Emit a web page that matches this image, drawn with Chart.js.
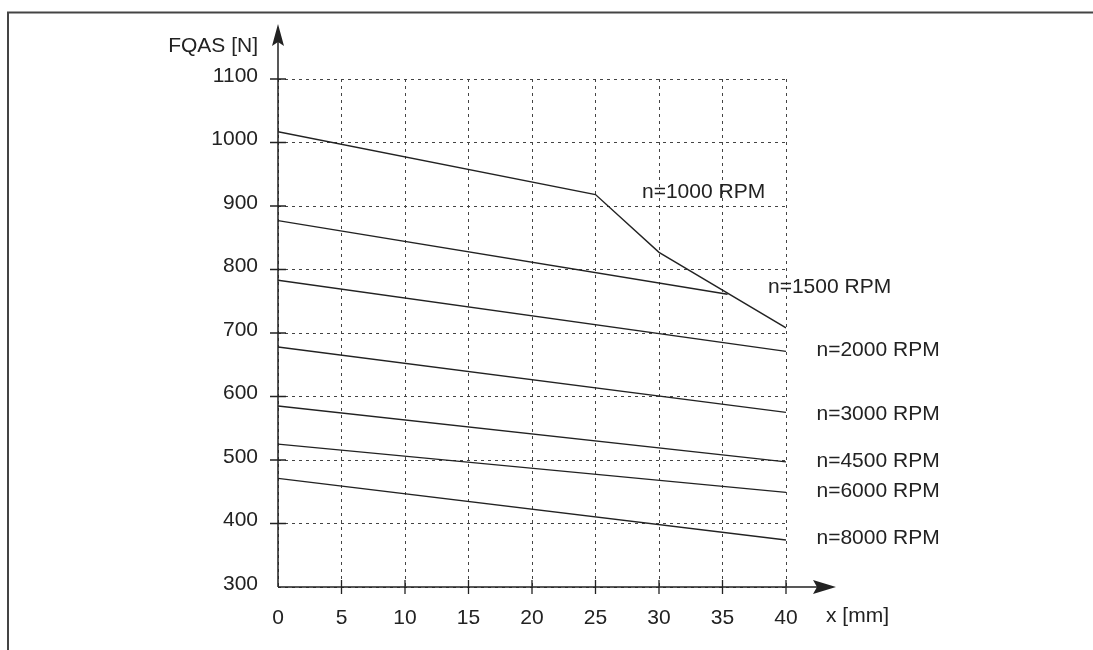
<!DOCTYPE html>
<html>
<head>
<meta charset="utf-8">
<script src="https://cdn.jsdelivr.net/npm/chart.js@4"></script>
<style>
    body { margin: 0; background: #fff; }
    canvas { display: block; }
</style>
</head>
<body>
<canvas id="forceChart" width="1093" height="650"></canvas>
<script>
// x [mm] positions and FQAS [N] values
const x1000 = [0, 25, 30, 40];
const y1000 = [1017, 918, 827, 708];
const x1500 = [0, 35.4];
const y1500 = [877, 761];
const xStraight = [0, 40];
const y2000 = [783, 671];
const y3000 = [678, 575];
const y4500 = [585, 497];
const y6000 = [525, 449];
const y8000 = [471, 374];

const seriesNames = [
    'n=1000 RPM',
    'n=1500 RPM',
    'n=2000 RPM',
    'n=3000 RPM',
    'n=4500 RPM',
    'n=6000 RPM',
    'n=8000 RPM',
];

const xTicks = [0, 5, 10, 15, 20, 25, 30, 35, 40];
const yTicks = [300, 400, 500, 600, 700, 800, 900, 1000, 1100];

// where each curve name sits, in axis units (mm, N)
const nameSpots = [
    [28.66, 912],
    [38.58, 762.5],
    [42.4, 663.3],
    [42.4, 563.6],
    [42.4, 489],
    [42.4, 441.7],
    [42.4, 368.3],
];

const FONT = "21px 'Liberation Sans', Arial, sans-serif";
const INK = '#222';

const toPoints = (xs, ys) => xs.map((x, i) => ({ x: x, y: ys[i] }));

const seriesPoints = [
    toPoints(x1000, y1000),
    toPoints(x1500, y1500),
    toPoints(xStraight, y2000),
    toPoints(xStraight, y3000),
    toPoints(xStraight, y4500),
    toPoints(xStraight, y6000),
    toPoints(xStraight, y8000),
];

const chartData = {
    datasets: seriesPoints.map((pts, i) => ({
        label: seriesNames[i],
        data: pts,
        borderColor: INK,
        borderWidth: 1.4,
        pointRadius: 0,
        tension: 0,
        fill: false,
    }))
};

// axes with arrows, tick marks, frame and texts
const drawingPlugin = {
    id: 'drawing',
    afterDraw(chart) {
        const ctx = chart.ctx;
        const xs = chart.scales.x;
        const ys = chart.scales.y;
        const area = chart.chartArea;
        const x0 = xs.getPixelForValue(0);
        const y0 = ys.getPixelForValue(300);

        ctx.save();

        // page frame
        ctx.strokeStyle = '#444';
        ctx.lineWidth = 2;
        ctx.beginPath();
        ctx.moveTo(8, 650);
        ctx.lineTo(8, 12.5);
        ctx.lineTo(1093, 12.5);
        ctx.stroke();

        // axes
        ctx.strokeStyle = INK;
        ctx.fillStyle = INK;
        ctx.lineWidth = 1.5;
        ctx.beginPath();
        ctx.moveTo(x0, y0);
        ctx.lineTo(x0, 40);
        ctx.moveTo(x0, y0);
        ctx.lineTo(820, y0);
        ctx.stroke();

        ctx.beginPath();
        ctx.moveTo(x0, 24);
        ctx.lineTo(x0 + 6, 46);
        ctx.lineTo(x0, 42);
        ctx.lineTo(x0 - 6, 46);
        ctx.closePath();
        ctx.fill();

        ctx.beginPath();
        ctx.moveTo(836, y0);
        ctx.lineTo(813, y0 - 7);
        ctx.lineTo(817, y0);
        ctx.lineTo(813, y0 + 7);
        ctx.closePath();
        ctx.fill();

        // tick marks crossing the axes
        ctx.lineWidth = 1.3;
        ctx.beginPath();
        yTicks.forEach(v => {
            if (v === 300) return;
            const py = ys.getPixelForValue(v);
            ctx.moveTo(x0 - 8, py);
            ctx.lineTo(x0 + 8, py);
        });
        xTicks.forEach(v => {
            if (v === 0) return;
            const px = xs.getPixelForValue(v);
            ctx.moveTo(px, y0 - 7);
            ctx.lineTo(px, y0 + 7);
        });
        ctx.stroke();

        // texts
        ctx.font = FONT;
        ctx.textBaseline = 'alphabetic';
        ctx.textAlign = 'right';
        ctx.fillText('FQAS [N]', area.left - 20, area.top - 27);
        ctx.textAlign = 'left';
        ctx.fillText('x [mm]', xs.getPixelForValue(43.15), y0 + 35);

        nameSpots.forEach((spot, i) => {
            ctx.fillText(seriesNames[i], xs.getPixelForValue(spot[0]), ys.getPixelForValue(spot[1]));
        });

        ctx.restore();
    }
};

const chartConfig = {
    type: 'line',
    data: chartData,
    options: {
        responsive: false,
        animation: false,
        devicePixelRatio: 1,
        layout: {
            padding: { top: 79, right: 307, left: 0, bottom: 0 }
        },
        plugins: {
            legend: { display: false },
            tooltip: { enabled: false },
        },
        scales: {
            x: {
                type: 'linear',
                min: 0,
                max: 40,
                afterFit: scale => { scale.height = 63; },
                afterBuildTicks: scale => { scale.ticks = xTicks.map(v => ({ value: v })); },
                ticks: {
                    color: INK,
                    font: { family: "'Liberation Sans', Arial, sans-serif", size: 21 },
                    padding: 19,
                    maxRotation: 0,
                    callback: v => String(v),
                },
                grid: {
                    color: '#444',
                    lineWidth: 1,
                    drawTicks: false,
                },
                border: { display: false, dash: [3, 4] },
            },
            y: {
                type: 'linear',
                min: 300,
                max: 1100,
                afterFit: scale => { scale.width = 278; },
                afterBuildTicks: scale => { scale.ticks = yTicks.map(v => ({ value: v })); },
                ticks: {
                    color: INK,
                    font: { family: "'Liberation Sans', Arial, sans-serif", size: 21 },
                    padding: 20,
                    labelOffset: -3,
                    callback: v => String(v),
                },
                grid: {
                    color: '#444',
                    lineWidth: 1,
                    drawTicks: false,
                },
                border: { display: false, dash: [3, 4] },
            }
        }
    },
    plugins: [drawingPlugin]
};

const forceChart = new Chart(
    document.getElementById('forceChart'),
    chartConfig
);
</script>
</body>
</html>
